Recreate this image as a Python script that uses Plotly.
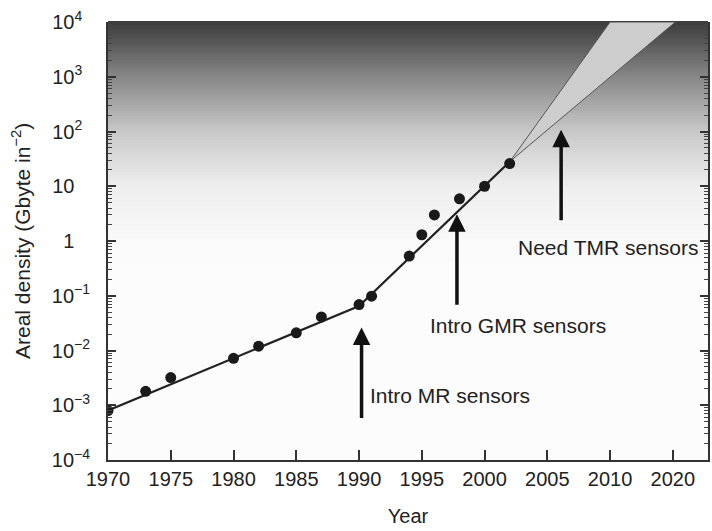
import numpy as np
import plotly.graph_objects as go

# Measured areal density of hard disk drives (Gbyte per square inch)
years = [1970, 1973, 1975, 1980, 1982, 1985, 1987, 1990, 1991,
         1994, 1995, 1996, 1998, 2000, 2002]
density = [8e-4, 1.8e-3, 3.2e-3, 7.2e-3, 0.012, 0.021, 0.041, 0.069, 0.098,
           0.53, 1.3, 3.0, 5.9, 10.0, 26.0]

# Piecewise trend line (MR era, then GMR era)
trend_years = [1970, 1990, 2002]
trend_density = [8e-4, 0.065, 28.0]

# Projection wedge beyond 2002
wedge_years = [2002, 2010, 2015.2, 2002]
wedge_density = [28.0, 1e4, 1e4, 28.0]

# Axis ticks
x_tickvals = [1970, 1975, 1980, 1985, 1990, 1995, 2000, 2005, 2010, 2015]
x_ticktext = ["1970", "1975", "1980", "1985", "1990", "1995", "2000",
              "2005", "2010", "2020"]
y_exponents = [-4, -3, -2, -1, 0, 1, 2, 3, 4]
NB = "\u00a0"
y_ticktext = ["10<sup>−4</sup>", "10<sup>−3</sup>", "10<sup>−2</sup>",
              "10<sup>−1</sup>", "1<sup>" + NB * 4 + "</sup>",
              "10<sup>" + NB * 4 + "</sup>",
              "10<sup>2" + NB * 2 + "</sup>",
              "10<sup>3" + NB * 2 + "</sup>",
              "10<sup>4" + NB * 2 + "</sup>"]
y_title = "Areal density (Gbyte in<sup>−2</sup>)"

# Sensor milestones: (label, arrow year, arrow tip log10, text year, text log10)
milestone_labels = ["Intro MR sensors", "Intro GMR sensors", "Need TMR sensors"]
milestone_arrow_year = [1990.2, 1997.8, 2006.1]
milestone_arrow_tip = [-1.58, 0.49, 2.03]
milestone_text_year = [1990.7, 1995.5, 2002.5]
milestone_text_log = [-2.82, -1.55, -0.11]

FONT = "Liberation Sans, Arial, Helvetica, sans-serif"
INK = "#222222"

fig = go.Figure()

# Vertical grey gradient in the upper part of the plotting area
stops_pos = [0.0, 0.5, 0.625, 0.75, 0.875, 1.0]
stops_val = [252, 250, 238, 200, 135, 60]
n_strips = 90
shapes = []
edges = np.linspace(0.45, 1.0, n_strips + 1)
for i in range(n_strips):
    mid = 0.5 * (edges[i] + edges[i + 1])
    v = int(round(np.interp(mid, stops_pos, stops_val)))
    shapes.append(dict(type="rect", xref="paper", yref="paper",
                       x0=0, x1=1, y0=edges[i], y1=edges[i + 1] + 0.002,
                       fillcolor=f"rgb({v},{v},{v})", line_width=0,
                       layer="below"))

fig.add_trace(go.Scatter(
    x=wedge_years, y=wedge_density, mode="lines", fill="toself",
    fillcolor="rgba(205,205,205,1)", line=dict(color="#555555", width=1),
    hoverinfo="skip", showlegend=False))

fig.add_trace(go.Scatter(
    x=trend_years, y=trend_density, mode="lines",
    line=dict(color="#222222", width=2.2), showlegend=False))

fig.add_trace(go.Scatter(
    x=years, y=density, mode="markers",
    marker=dict(color="#1a1a1a", size=11), showlegend=False))

annotations = []
for lab, ax_year, tip, tx, ty in zip(milestone_labels, milestone_arrow_year,
                                     milestone_arrow_tip, milestone_text_year,
                                     milestone_text_log):
    annotations.append(dict(
        x=ax_year, y=tip, xref="x", yref="y", text="", showarrow=True,
        arrowhead=2, arrowsize=1, arrowwidth=3.5, arrowcolor="#111111",
        ax=0, ay=92))
    annotations.append(dict(
        x=tx, y=ty, xref="x", yref="y", text=lab, showarrow=False,
        xanchor="left", yanchor="middle",
        font=dict(family=FONT, size=21, color=INK)))

# Y-axis title placed as a rotated annotation left of the tick labels
annotations.append(dict(
    x=-0.145, y=0.5, xref="paper", yref="paper", text=y_title,
    textangle=-90, showarrow=False, xanchor="center", yanchor="middle",
    font=dict(family=FONT, size=21, color=INK)))

minor_vals = [m * 10.0 ** e for e in range(-4, 4) for m in range(2, 10)]

fig.update_layout(
    width=712, height=531,
    margin=dict(l=108, r=2, t=22, b=71),
    paper_bgcolor="white", plot_bgcolor="#fcfcfc",
    font=dict(family=FONT, size=20, color=INK),
    shapes=shapes, annotations=annotations,
    xaxis=dict(
        range=[1970, 2017.8], tickvals=x_tickvals, ticktext=x_ticktext,
        ticks="inside", ticklen=10, tickwidth=2, tickcolor="#333333",
        showline=True, linecolor="#333333", linewidth=2,
        showgrid=False, zeroline=False,
        title=dict(text="Year", standoff=20, font=dict(size=20)),
        tickfont=dict(size=20)),
    yaxis=dict(
        type="log", range=[-4, 4],
        tickvals=[10.0 ** e for e in y_exponents], ticktext=y_ticktext,
        ticks="inside", ticklen=8, tickwidth=2, tickcolor="#333333",
        ticklabelstandoff=12,
        minor=dict(tickvals=minor_vals, ticks="inside", ticklen=4,
                   tickwidth=1, tickcolor="#444444"),
        showline=True, linecolor="#333333", linewidth=2, mirror="ticks",
        showgrid=False, zeroline=False,
        tickfont=dict(size=20)),
)

fig.write_html("out.html")
